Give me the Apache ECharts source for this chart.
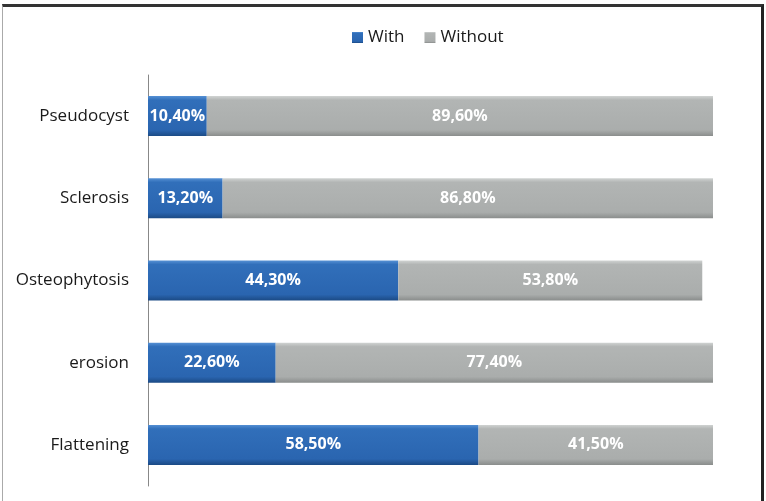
<!DOCTYPE html>
<html><head><meta charset="utf-8">
<script src="https://cdn.jsdelivr.net/npm/echarts@6/dist/echarts.min.js"></script>
<style>html,body{margin:0;padding:0;background:#fff}#c{width:766px;height:501px}
#frame{position:absolute;left:2px;top:4px;width:758px;height:520px;border-top:3px solid #333;border-right:3px solid #222;border-left:1px solid #aaa;pointer-events:none}</style>
</head><body><div id="c"></div><div id="frame"></div>
<script>
var categories = ['Flattening', 'erosion', 'Osteophytosis', 'Sclerosis', 'Pseudocyst'];
var withValues = [58.5, 22.6, 44.3, 13.2, 10.4];
var withoutValues = [41.5, 77.4, 53.8, 86.8, 89.6];
var seriesNames = ['With', 'Without'];

function fmt(v){ return v.toFixed(2).replace('.', ',') + '%'; }
var chart = echarts.init(document.getElementById('c'));
var blue = new echarts.graphic.LinearGradient(0,0,0,1,[{offset:0,color:'#5590d4'},{offset:0.1,color:'#316fba'},{offset:0.85,color:'#2a65b0'},{offset:1,color:'#1b4a85'}]);
var gray = new echarts.graphic.LinearGradient(0,0,0,1,[{offset:0,color:'#d0d3d2'},{offset:0.1,color:'#b2b5b4'},{offset:0.85,color:'#aaadac'},{offset:1,color:'#8a8d8c'}]);
var labelStyle = {show:true, position:'inside', color:'#fff', fontWeight:'bold', fontSize:16, fontFamily:'Open Sans, sans-serif', formatter:function(p){return fmt(p.value);}};
chart.setOption({
  animation:false,
  legend:{top:24, left:347, itemWidth:11, itemHeight:11, itemGap:20, icon:'rect',
    textStyle:{fontSize:17, color:'#1a1a1a', fontFamily:'Open Sans, sans-serif'}, data:seriesNames},
  grid:{left:148, right:53, top:75, bottom:15, containLabel:false},
  xAxis:{type:'value', min:0, max:100, show:false},
  yAxis:{type:'category', data:categories, axisLine:{show:true, lineStyle:{color:'#888', width:1}},
    axisTick:{show:false}, axisLabel:{fontSize:17, color:'#1a1a1a', margin:19, fontFamily:'Open Sans, sans-serif'}},
  series:[
    {name:seriesNames[0], type:'bar', stack:'s', data:withValues, barWidth:40, itemStyle:{color:blue}, label:labelStyle},
    {name:seriesNames[1], type:'bar', stack:'s', data:withoutValues, barWidth:40, itemStyle:{color:gray}, label:labelStyle}
  ]
});
</script></body></html>
